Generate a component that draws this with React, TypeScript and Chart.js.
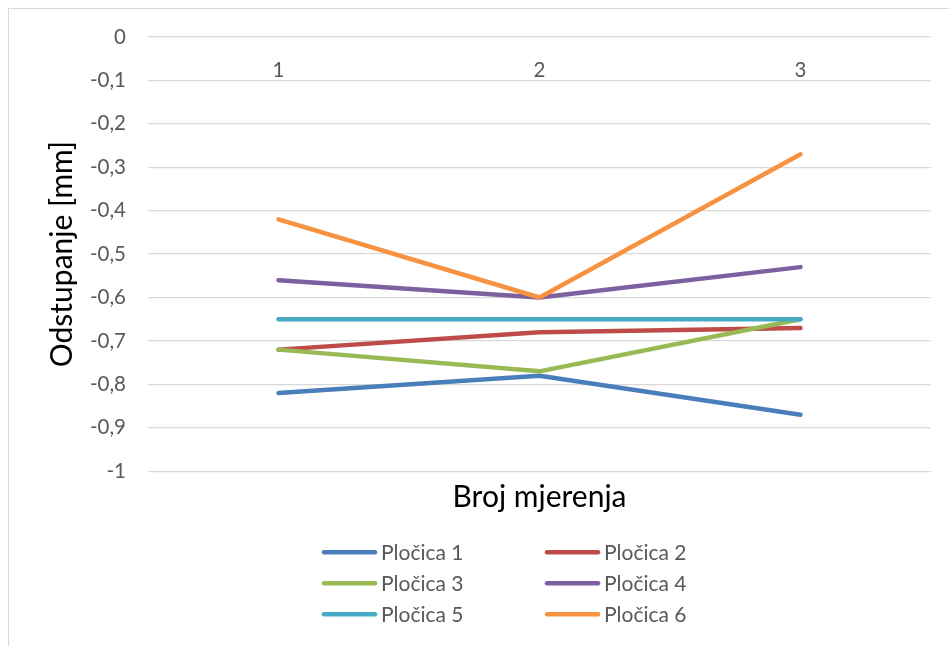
import React, { useEffect, useRef } from "react";
import { Chart, registerables } from "chart.js";

Chart.register(...registerables);

// ---- data ----
const categories = ["1", "2", "3"];
const seriesNames = ["Pločica 1", "Pločica 2", "Pločica 3", "Pločica 4", "Pločica 5", "Pločica 6"];
const plocica1 = [-0.82, -0.78, -0.87];
const plocica2 = [-0.72, -0.68, -0.67];
const plocica3 = [-0.72, -0.77, -0.65];
const plocica4 = [-0.56, -0.6, -0.53];
const plocica5 = [-0.65, -0.65, -0.65];
const plocica6 = [-0.42, -0.6, -0.27];
const seriesValues = [plocica1, plocica2, plocica3, plocica4, plocica5, plocica6];
const seriesColors = ["#4A7EBB", "#BE4B48", "#98B954", "#7D60A0", "#46AAC5", "#F69240"];
const yMin = -1;
const yMax = 0;
const yStep = 0.1;
const xTitle = "Broj mjerenja";
const yTitle = "Odstupanje [mm]";

const FONT = "Lato, 'Open Sans', sans-serif";
const TICK_SIZE = 20.5;
const TITLE_SIZE = 30;
const LEGEND_SIZE = 21;
const LINE_W = 4.5;

const formatTick = (v: number) => {
  const r = Math.round(v * 10) / 10;
  return String(r === 0 ? 0 : r).replace(".", ",");
};

// y-axis title, drawn rotated at the left of the y scale
const yAxisTitle = {
  id: "yAxisTitle",
  afterDraw(chart: any) {
    const { ctx, chartArea } = chart;
    const yScale = chart.scales.y;
    ctx.save();
    ctx.translate(yScale.left + 54, (chartArea.top + chartArea.bottom) / 2);
    ctx.rotate(-Math.PI / 2);
    ctx.font = `${TITLE_SIZE}px ${FONT}`;
    ctx.fillStyle = "#000000";
    ctx.textAlign = "center";
    ctx.textBaseline = "middle";
    ctx.fillText(yTitle, 0, 0);
    ctx.restore();
  },
};

const gridLegend = {
  id: "gridLegend",
  afterDraw(chart: any) {
    const { ctx, chartArea } = chart;
    const left0 = chartArea.left + 174;
    const colW = 223;
    const top0 = chartArea.bottom + 81;
    const rowH = 31;
    const sample = 55;
    ctx.save();
    ctx.font = `${LEGEND_SIZE}px ${FONT}`;
    ctx.textBaseline = "middle";
    ctx.textAlign = "left";
    chart.data.datasets.forEach((ds: any, i: number) => {
      const col = i % 2;
      const row = Math.floor(i / 2);
      const x = left0 + col * colW;
      const y = top0 + row * rowH;
      ctx.strokeStyle = ds.borderColor;
      ctx.lineWidth = LINE_W;
      ctx.lineCap = "round";
      ctx.beginPath();
      ctx.moveTo(x + 2, y);
      ctx.lineTo(x + sample - 2, y);
      ctx.stroke();
      ctx.fillStyle = "#595959";
      ctx.fillText(ds.label, x + sample + 4, y + 1);
    });
    ctx.restore();
  },
};

export default function App() {
  const ref = useRef<HTMLCanvasElement | null>(null);

  useEffect(() => {
    if (!ref.current) return;
    const chart = new Chart(ref.current, {
      type: "line",
      data: {
        labels: categories,
        datasets: seriesNames.map((name, i) => ({
          label: name,
          data: seriesValues[i],
          borderColor: seriesColors[i],
          backgroundColor: seriesColors[i],
          borderWidth: LINE_W,
          borderCapStyle: "round",
          borderJoinStyle: "round",
          pointRadius: 0,
          pointHoverRadius: 0,
          tension: 0,
          fill: false,
          order: seriesNames.length - 1 - i,
          xAxisID: "x",
          yAxisID: "y",
        })),
      },
      options: {
        animation: false,
        responsive: false,
        maintainAspectRatio: false,
        layout: { padding: { left: 8, top: 37, right: 18, bottom: 130.8 } },
        plugins: {
          legend: { display: false },
          tooltip: { enabled: false },
          title: { display: false },
        },
        scales: {
          x: {
            type: "category",
            position: { y: 0 } as any,
            offset: true,
            grid: { display: false },
            border: { display: false },
            ticks: {
              color: "#595959",
              font: { family: FONT, size: TICK_SIZE },
              padding: 13,
              maxRotation: 0,
              autoSkip: false,
            },
          },
          x2: {
            type: "category",
            position: "bottom",
            offset: true,
            grid: { display: false },
            border: { display: false },
            ticks: { display: false },
            title: {
              display: true,
              text: xTitle,
              color: "#000000",
              font: { family: FONT, size: TITLE_SIZE },
              padding: { top: 0, bottom: 0 },
            },
          },
          y: {
            type: "linear",
            position: "left",
            min: yMin,
            max: yMax,
            afterFit: (s: any) => {
              s.width = 140;
            },
            ticks: {
              stepSize: yStep,
              color: "#595959",
              font: { family: FONT, size: TICK_SIZE },
              padding: 22,
              callback: (v: any) => formatTick(Number(v)),
            },
            grid: { color: "#D9D9D9", lineWidth: 1.3, drawTicks: false },
            border: { display: false },
            title: { display: false },
          },
        },
      },
      plugins: [yAxisTitle, gridLegend],
    });
    return () => chart.destroy();
  }, []);

  return (
    <div
      style={{
        position: "fixed",
        left: 0,
        top: 0,
        width: 949,
        height: 646,
        overflow: "hidden",
        background: "#ffffff",
      }}
    >
      <div
        style={{
          position: "absolute",
          left: 8,
          top: 8,
          width: 1000,
          height: 700,
          border: "1px solid #D9D9D9",
          boxSizing: "border-box",
        }}
      />
      <canvas
        ref={ref}
        width={949}
        height={646}
        style={{ position: "absolute", left: 0, top: 0, width: 949, height: 646 }}
      />
    </div>
  );
}
